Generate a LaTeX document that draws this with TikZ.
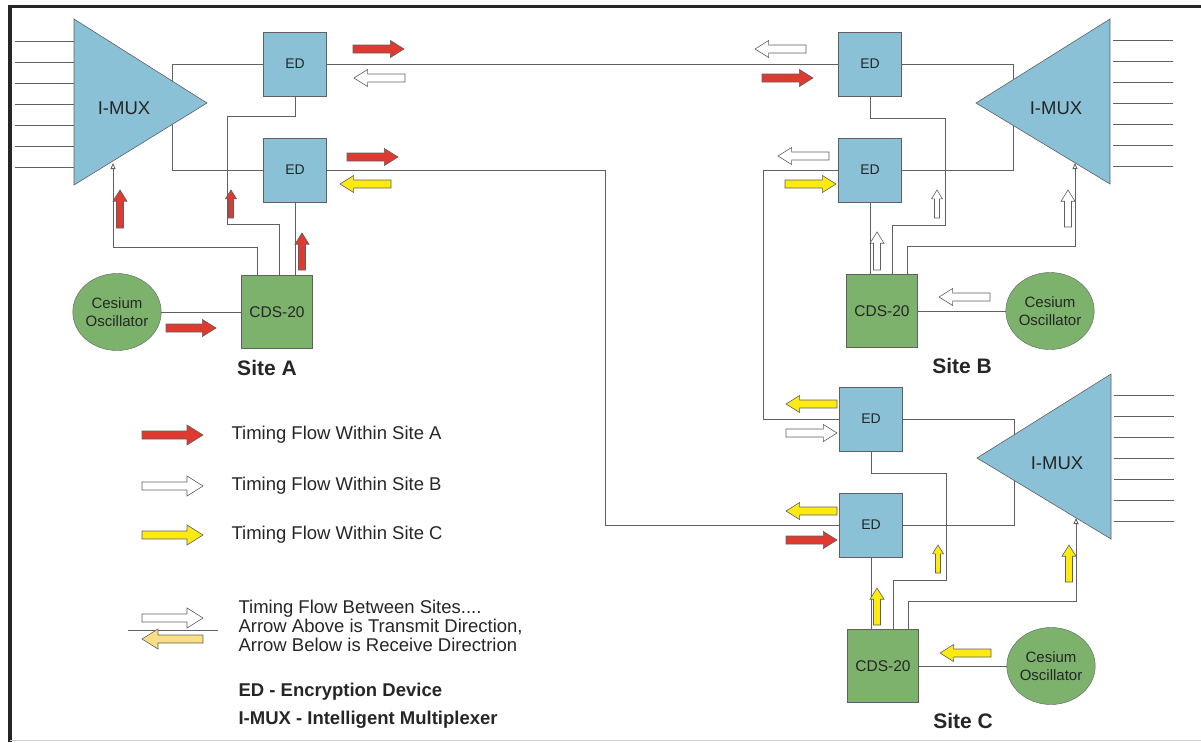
\documentclass[tikz,border=0pt]{standalone}
\usepackage{fontspec}
\setmainfont{Liberation Sans}
\usetikzlibrary{arrows.meta,shapes.geometric}

\definecolor{edblue}{RGB}{138,193,215}
\definecolor{cdsgreen}{RGB}{124,178,108}
\definecolor{flowred}{RGB}{222,58,48}
\definecolor{flowyellow}{RGB}{252,234,18}
\definecolor{paleyellow}{RGB}{248,222,132}
\definecolor{wiregray}{RGB}{95,95,100}

\tikzset{
  wire/.style={draw=wiregray,line width=0.8pt},
  edbox/.style={draw=wiregray,fill=edblue,minimum width=63pt,minimum height=64pt,
    text=black!85,font=\fontsize{14}{14}\selectfont},
  cdsbox/.style={draw=wiregray,fill=cdsgreen,minimum width=71pt,minimum height=73pt,
    text=black!85,font=\fontsize{15.5}{15.5}\selectfont},
  osc/.style={ellipse,draw=wiregray,fill=cdsgreen,minimum width=84pt,minimum height=77pt,
    inner sep=0pt,align=center,text=black!85,font=\fontsize{15}{18}\selectfont},
  muxshape/.style={draw=wiregray,fill=edblue,line width=0.6pt},
  muxlabel/.style={text=black!85,font=\fontsize{18.5}{18.5}\selectfont},
  sitelabel/.style={text=black!85,font=\fontsize{21}{21}\selectfont\bfseries},
  legtext/.style={anchor=west,align=left,text=black!85,font=\fontsize{18.5}{19}\selectfont},
  tipin/.style={-{Triangle[length=6pt,width=5pt,fill=white]}},
  pics/flow/.style n args={4}{code={
    \pgfmathsetmacro\fl{#2}\pgfmathsetmacro\hw{#3}\pgfmathsetmacro\sw{#4}
    \pgfmathsetmacro\hl{\fl-1.6*\hw}
    \filldraw[draw=wiregray,fill=#1,line width=0.6pt]
      (0,-\sw) -- (\hl,-\sw) -- (\hl,-\hw) -- (\fl,0) -- (\hl,\hw) -- (\hl,\sw) -- (0,\sw) -- cycle;
  }},
}

\begin{document}
\begin{tikzpicture}[x=1pt,y=-1pt]
  \useasboundingbox (0,0) rectangle (1201,742);
  % frame
  \draw[line width=3pt,black!85] (8,6) -- (1201,6);
  \draw[line width=3.5pt,black!85] (10,6) -- (10,742);
  \draw[line width=1pt,black!20] (10,740) -- (1201,740);

  % ---- site A
  \node[edbox] (edA1) at (295,64) {ED};
  \node[edbox] (edA2) at (295,170) {ED};
  \node[cdsbox] (cdsA) at (277,312) {CDS-20};
  \node[osc] (oscA) at (117,312) {Cesium\\Oscillator};
  \coordinate (muxAin) at (113,163);
  % ---- site B
  \node[edbox] (edB1) at (870,64) {ED};
  \node[edbox] (edB2) at (870,170) {ED};
  \node[cdsbox] (cdsB) at (882,311) {CDS-20};
  \node[osc] (oscB) at (1050,311) {Cesium\\Oscillator};
  \coordinate (muxBin) at (1075,163);
  % ---- site C
  \begin{scope}[shift={(1,355)}]
    \node[edbox] (edC1) at (870,64) {ED};
    \node[edbox] (edC2) at (870,170) {ED};
    \node[cdsbox] (cdsC) at (882,311) {CDS-20};
    \node[osc] (oscC) at (1050,311) {Cesium\\Oscillator};
    \coordinate (muxCin) at (1075,163);
  \end{scope}

  % buses behind the multiplexers
  \draw[wire] (edA1.west) -- ++(-91,0) |- (edA2.west);
  \draw[wire] (edB1.east) -- ++(112,0) |- (edB2.east);
  \draw[wire] (edC1.east) -- ++(112,0) |- (edC2.east);

  % multiplexers
  \filldraw[muxshape] (74,19) -- (207,103) -- (74,185) -- cycle;
  \node[muxlabel] (muxA) at (124,108) {I-MUX};
  \foreach \y in {41,62,...,167} \draw[wire] (15,\y) -- (74,\y);
  \filldraw[muxshape] (1110,19) -- (976,103) -- (1110,184) -- cycle;
  \node[muxlabel] (muxB) at (1056,108) {I-MUX};
  \foreach \y in {40,61,...,166} \draw[wire] (1113,\y) -- (1173,\y);
  \begin{scope}[shift={(1,355)}]
    \filldraw[muxshape] (1110,19) -- (976,103) -- (1110,184) -- cycle;
    \node[muxlabel] (muxC) at (1056,108) {I-MUX};
    \foreach \y in {40,61,...,166} \draw[wire] (1113,\y) -- (1173,\y);
  \end{scope}

  % links between sites
  \draw[wire] (edA1.east) -- (edB1.west);
  \draw[wire] (edA2.east) -- ++(279,0) |- (edC2.west);
  \draw[wire] (edB2.west) -- ++(-75,0) |- (edC1.west);

  % timing wires site A
  \draw[wire] (edA1.south) -- ++(0,20) -- ++(-68,0) -- ++(0,108) -| ([xshift=2pt]cdsA.north);
  \draw[wire] (edA2.south) -- (edA2.south |- cdsA.north);
  \draw[wire,tipin] ([xshift=-20pt]cdsA.north) -- ++(0,-28) -| (muxAin);
  \draw[wire] (oscA.east) -- (cdsA.west);
  % timing wires site B
  \draw[wire] (edB1.south) -- ++(0,22) -- ++(75,0) -- ++(0,107) -| ([xshift=10pt]cdsB.north);
  \draw[wire] (edB2.south) -- (edB2.south |- cdsB.north);
  \draw[wire,tipin] ([xshift=25pt]cdsB.north) -- ++(0,-28) -| (muxBin);
  \draw[wire] (oscB.west) -- (cdsB.east);
  % timing wires site C
  \draw[wire] (edC1.south) -- ++(0,22) -- ++(75,0) -- ++(0,107) -| ([xshift=10pt]cdsC.north);
  \draw[wire] (edC2.south) -- (edC2.south |- cdsC.north);
  \draw[wire,tipin] ([xshift=25pt]cdsC.north) -- ++(0,-28) -| (muxCin);
  \draw[wire] (oscC.west) -- (cdsC.east);

  % flow arrows site A
  \pic at (353,49) {flow={flowred}{51}{8.5}{4}};
  \pic[rotate=180] at (405,78) {flow={white}{51}{8.5}{4}};
  \pic at (347,157) {flow={flowred}{51}{8.5}{4}};
  \pic[rotate=180] at (391,184) {flow={flowyellow}{51}{8.5}{4}};
  \pic[rotate=90] at (120,228) {flow={flowred}{38}{7}{3.5}};
  \pic[rotate=90] at (231,218) {flow={flowred}{28}{5.5}{2.5}};
  \pic[rotate=90] at (302,270) {flow={flowred}{37}{7}{3.5}};
  \pic at (166,328) {flow={flowred}{50}{8.5}{4}};
  % flow arrows site B
  \pic[rotate=180] at (806,49) {flow={white}{51}{8.5}{4}};
  \pic at (762,78) {flow={flowred}{51}{8.5}{4}};
  \pic[rotate=180] at (829,156) {flow={white}{51}{8.5}{4}};
  \pic at (785,184) {flow={flowyellow}{51}{8.5}{4}};
  \pic[rotate=90] at (937,218) {flow={white}{28}{5.5}{2.5}};
  \pic[rotate=90] at (877,270) {flow={white}{38}{7}{3.5}};
  \pic[rotate=90] at (1068,227) {flow={white}{37}{7}{3.5}};
  \pic[rotate=180] at (990,297) {flow={white}{51}{8.5}{4}};
  % flow arrows site C
  \pic[rotate=180] at (837,404) {flow={flowyellow}{51}{8.5}{4}};
  \pic at (786,433) {flow={white}{51}{8.5}{4}};
  \pic[rotate=180] at (837,511) {flow={flowyellow}{51}{8.5}{4}};
  \pic at (786,540) {flow={flowred}{51}{8.5}{4}};
  \pic[rotate=90] at (938,573) {flow={flowyellow}{28}{5.5}{2.5}};
  \pic[rotate=90] at (877,625) {flow={flowyellow}{37}{7}{3.5}};
  \pic[rotate=90] at (1069,582) {flow={flowyellow}{37}{7}{3.5}};
  \pic[rotate=180] at (991,653) {flow={flowyellow}{51}{8.5}{4}};

  % site names
  \node[sitelabel] (siteA) at (267,368) {Site A};
  \node[sitelabel] (siteB) at (962,366) {Site B};
  \node[sitelabel] (siteC) at (963,721) {Site C};

  % legend
  \pic at (142,435) {flow={flowred}{61}{10}{4}};
  \node[legtext] (legA) at (228,435) {Timing Flow Within Site A};
  \pic at (142,486) {flow={white}{61}{10}{4}};
  \node[legtext] (legB) at (228,486) {Timing Flow Within Site B};
  \pic at (142,535) {flow={flowyellow}{61}{10}{4}};
  \node[legtext] (legC) at (228,535) {Timing Flow Within Site C};
  \pic at (142,618) {flow={white}{61}{10}{4}};
  \draw[wire] (128,630) -- (218,630);
  \pic[rotate=180] at (203,639) {flow={paleyellow}{61}{10}{4}};
  \node[legtext] (legX) at (235,626) {Timing Flow Between Sites....\\
    Arrow Above is Transmit Direction,\\Arrow Below is Receive Directrion};
  \node[legtext,font=\fontsize{18.5}{19}\selectfont\bfseries] (legED) at (235,692) {ED - Encryption Device};
  \node[legtext,font=\fontsize{18.5}{19}\selectfont\bfseries] (legMUX) at (235,720) {I-MUX - Intelligent Multiplexer};
\end{tikzpicture}
\end{document}
